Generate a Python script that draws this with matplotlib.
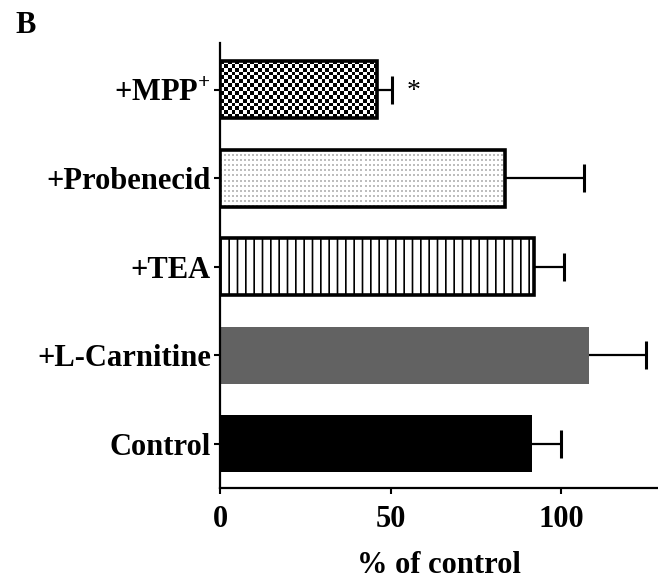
import numpy as np
import matplotlib
matplotlib.use("Agg")
import matplotlib.pyplot as plt

# Transporter inhibitor screen, uptake as percent of control
categories = ["Control", "+L-Carnitine", "+TEA", "+Probenecid", "+MPP$^{+}$"]
values = [91.5, 108.0, 92.1, 83.6, 45.9]
errors = [8.5, 16.8, 8.8, 23.1, 4.4]
xticks = [0, 50, 100]
significance = {4: "*"}

plt.rcParams["font.family"] = ["Liberation Serif", "DejaVu Serif"]
plt.rcParams["font.weight"] = "bold"
plt.rcParams["mathtext.fontset"] = "custom"
plt.rcParams["mathtext.rm"] = "Liberation Serif"
plt.rcParams["mathtext.bf"] = "Liberation Serif:bold"
plt.rcParams["hatch.linewidth"] = 1.2

W, H, DPI = 658, 583, 100
fig = plt.figure(figsize=(W / DPI, H / DPI), dpi=DPI)
ax = fig.add_axes([220 / W, 1 - 488 / H, 437 / W, 445 / H])

ypos = np.arange(len(categories))
bar_h = 0.645
ax.set_xlim(0, 128)
ax.set_ylim(-0.5, 4.53)

styles = [
    dict(color="black", edgecolor="black", linewidth=0),
    dict(color="#626262", edgecolor="#626262", linewidth=0),
    dict(facecolor="none", edgecolor="black", linewidth=2.6, hatch="||", zorder=3),
    dict(facecolor="none", edgecolor="black", linewidth=2.6, zorder=3),
    dict(facecolor="none", edgecolor="black", linewidth=2.6, zorder=3),
]

bars = []
for y, v, st in zip(ypos, values, styles):
    b = ax.barh(y, v, height=bar_h, **st)
    bars.append(b[0])


def fill_pattern(idx, kind):
    y, v = ypos[idx], values[idx]
    p0 = ax.transData.transform((0, y - bar_h / 2))
    p1 = ax.transData.transform((v, y + bar_h / 2))
    nx = int(round(p1[0] - p0[0]))
    ny = int(round(p1[1] - p0[1]))
    ix = np.arange(nx)[None, :]
    iy = np.arange(ny)[:, None]
    if kind == "checker":
        s = 3.75
        img = ((np.floor(ix / s) + np.floor(iy / s)) % 2).astype(float)
    else:
        dots = ((ix % 4) < 2) & ((iy % 5) < 2)
        img = np.where(dots, 0.74, 1.0)
    im = ax.imshow(img, cmap="gray", vmin=0, vmax=1, origin="lower",
                   extent=(0, v, y - bar_h / 2, y + bar_h / 2),
                   interpolation="nearest", aspect="auto", zorder=2)
    im.set_clip_path(bars[idx])


fill_pattern(4, "checker")
fill_pattern(3, "dots")
ax.set_xlim(0, 128)
ax.set_ylim(-0.5, 4.53)

# one-sided (upper) error bars: keep only the outer cap
_, caps, _ = ax.errorbar(values, ypos, xerr=[np.zeros(len(values)), errors],
                         fmt="none", ecolor="black", elinewidth=1.6,
                         capsize=10, capthick=2.2, zorder=4)
caps[0].remove()

for i, mark in significance.items():
    ax.text(values[i] + errors[i] + 4.3, ypos[i] - 0.02, mark, fontsize=20,
            fontweight="normal", ha="left", va="center")

ax.set_yticks(ypos)
ax.set_yticklabels(categories, fontsize=22)
ax.set_xticks(xticks)
ax.set_xticklabels([str(t) for t in xticks], fontsize=22)
ax.tick_params(axis="both", direction="out", length=4.5, width=1.5, color="black")
ax.tick_params(axis="y", pad=2)
ax.tick_params(axis="x", pad=8)
ax.set_xlabel("% of control", fontsize=22, fontweight="bold", labelpad=12)

for side in ["top", "right"]:
    ax.spines[side].set_visible(False)
for side in ["left", "bottom"]:
    ax.spines[side].set_linewidth(1.6)

fig.text(15 / W, 1 - 11 / H, "B", fontsize=22, fontweight="bold", ha="left", va="top")

fig.savefig("out.png", dpi=DPI)
